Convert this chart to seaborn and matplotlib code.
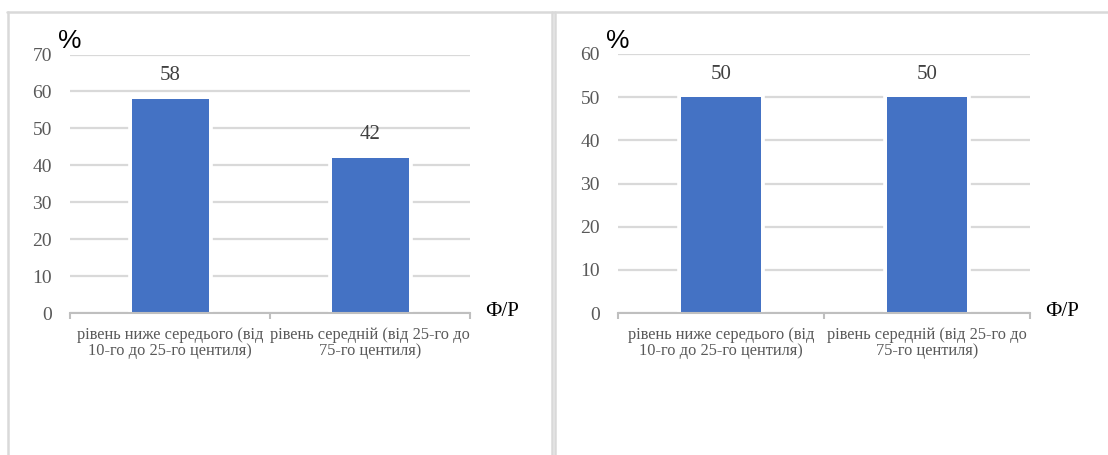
import matplotlib
matplotlib.use("Agg")
import matplotlib.pyplot as plt
import matplotlib.patheffects as pe
from matplotlib.lines import Line2D
import seaborn as sns
import pandas as pd

# Data
categories = [
    "рівень ниже середього (від\n10-го до 25-го центиля)",
    "рівень середній (від 25-го до\n75-го центиля)",
]
left_values = [58, 42]
right_values = [50, 50]
left_yticks = [0, 10, 20, 30, 40, 50, 60, 70]
right_yticks = [0, 10, 20, 30, 40, 50, 60]
y_unit = "%"
x_unit = "Ф/Р"

sns.set_theme(style="white")
plt.rcParams["font.family"] = ["Liberation Serif", "DejaVu Serif"]

W, H = 1108, 455
fig = plt.figure(figsize=(W / 100, H / 100), dpi=100)

BLUE = "#4472C4"
GRID = "#d9d9d9"
AXIS = "#bfbfbf"
TICK_GRAY = "#595959"
FRAME = "#d9d9d9"


def px_axes(x0, x1, y_top, y_bot):
    return fig.add_axes([x0 / W, 1 - y_bot / H, (x1 - x0) / W, (y_bot - y_top) / H])


def panel(ax, values, yticks):
    df = pd.DataFrame({"cat": categories, "val": values})
    sns.barplot(data=df, x="cat", y="val", ax=ax, color=BLUE, saturation=1,
                width=0.385, linewidth=0)
    # white halo so the gridlines stop short of each bar
    for bar in ax.patches:
        bar.set_path_effects([pe.Stroke(linewidth=5.5, foreground="white"), pe.Normal()])

    ax.set_xlim(-0.5, len(categories) - 0.5)
    ax.set_ylim(yticks[0], yticks[-1])
    ax.set_yticks(yticks)
    ax.set_yticklabels([str(t) for t in yticks])
    ax.set_axisbelow(True)
    ax.yaxis.grid(True, color=GRID, linewidth=1.6)
    ax.xaxis.grid(False)

    for s in ("left", "top", "right"):
        ax.spines[s].set_visible(False)
    ax.spines["bottom"].set_color(AXIS)
    ax.spines["bottom"].set_linewidth(1.5)

    ax.tick_params(axis="y", length=0, pad=13, labelsize=14, labelcolor=TICK_GRAY)
    ax.set_xticks(range(len(categories)))
    ax.set_xticklabels(categories, fontsize=11.8, color=TICK_GRAY, linespacing=1.05)
    ax.tick_params(axis="x", which="major", length=0, pad=10)
    ax.set_xticks([i - 0.5 for i in range(len(categories) + 1)], minor=True)
    ax.tick_params(axis="x", which="minor", length=4, width=1.5, color=AXIS,
                   direction="out", bottom=True)
    ax.set_xlabel("")
    ax.set_ylabel("")

    for i, v in enumerate(values):
        ax.annotate(f"{v}", xy=(i, v), xytext=(0, 23), textcoords="offset pixels",
                    ha="center", va="center", fontsize=15, color="#404040")

    ax.annotate(y_unit, xy=(0, 1), xycoords="axes fraction", xytext=(-12, 13),
                textcoords="offset pixels", ha="left", va="center", fontsize=19,
                color="black", family=["Liberation Sans", "DejaVu Sans"])
    ax.annotate(x_unit, xy=(1, 0), xycoords="axes fraction", xytext=(15, 1),
                textcoords="offset pixels", ha="left", va="center", fontsize=15,
                color="black")


ax_left = px_axes(70, 470, 54.5, 313)
panel(ax_left, left_values, left_yticks)
ax_right = px_axes(618, 1030, 54, 313)
panel(ax_right, right_values, right_yticks)

# Panel frames
def fig_line(xs, ys, lw=1.8):
    fig.add_artist(Line2D([x / W for x in xs], [1 - y / H for y in ys],
                          transform=fig.transFigure, color=FRAME, linewidth=lw))

fig_line([7, 1108], [12, 12])
fig_line([7.5, 7.5], [12, 455])
fig_line([551.5, 551.5], [12, 455])
fig_line([554.5, 554.5], [12, 455])

fig.savefig("out.png", dpi=100, facecolor="white")
